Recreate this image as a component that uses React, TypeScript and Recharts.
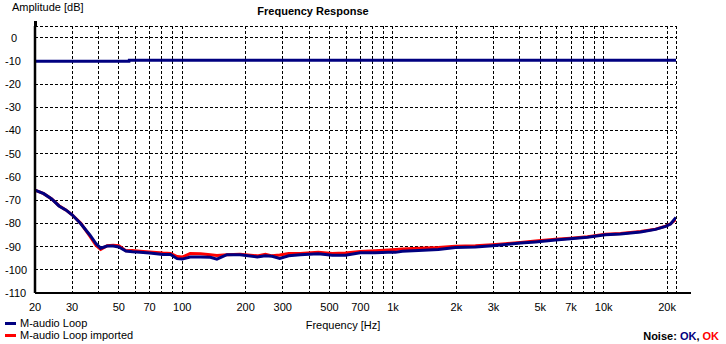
import { LineChart, Line, XAxis, YAxis, CartesianGrid } from 'recharts';

// frequency axis (Hz) of the noise measurement
const freqs = [
  20, 22, 24, 26, 28, 30, 33, 36.5, 39, 41, 44, 47, 50, 54, 58, 63, 70, 81, 88, 94.5,
  100, 109, 122, 136, 146, 163, 188, 227, 248, 267, 290, 320, 363, 442, 515, 594, 700,
  825, 950, 1026, 1108, 1320, 1642, 1978, 2462, 2966, 3420, 4028, 4746, 5904, 6958,
  8385, 10206, 12024, 14964, 17636, 19680, 20770, 22050,
];
const loopDb = [
  -65.7, -67.2, -69.5, -72.5, -74.2, -76.3, -80.2, -85.1, -88.8, -90.7, -89.8, -89.8, -90.2, -91.9, -92.2, -92.4, -92.8, -93.4, -93.4, -95.2,
  -95.4, -94.5, -94.5, -94.6, -95.4, -93.5, -93.5, -94.5, -94.0, -94.2, -95.1, -94.0, -93.5, -93.1, -93.7, -93.7, -92.7,
  -92.7, -92.5, -92.5, -92.0, -91.7, -91.3, -90.4, -90.2, -89.6, -89.1, -88.5, -88.0, -87.2, -86.6,
  -86.0, -84.9, -84.6, -83.7, -82.6, -81.3, -80.3, -77.5,
];
const importedDb = [
  -65.7, -67.2, -69.5, -72.4, -74.2, -76.3, -80.0, -85.6, -89.5, -91.2, -89.6, -89.4, -89.6, -91.8, -91.7, -92.0, -92.3, -92.8, -93.0, -94.3,
  -94.5, -93.0, -93.1, -93.5, -93.8, -93.5, -93.3, -94.0, -93.3, -94.0, -93.6, -93.0, -93.0, -92.5, -93.0, -92.8, -92.1,
  -91.8, -91.5, -91.3, -91.1, -90.7, -90.4, -89.9, -89.7, -89.2, -88.8, -88.2, -87.6, -86.9, -86.4,
  -85.8, -84.7, -84.4, -83.5, -82.5, -81.2, -80.2, -78.3,
];

// reference level trace near -10 dB
const levelFreqs = [20, 55.9, 56, 22050];
const levelDb = [-10.2, -10.2, -9.8, -9.8];

const gridFreqs = [
  20, 30, 40, 50, 60, 70, 80, 90, 100, 200, 300, 400, 500, 600, 700, 800, 900,
  1000, 2000, 3000, 4000, 5000, 6000, 7000, 8000, 9000, 10000, 20000,
];
const labelFreqs = [20, 30, 50, 70, 100, 200, 300, 500, 700, 1000, 2000, 3000, 5000, 7000, 10000, 20000];
const dbTicks = [0, -10, -20, -30, -40, -50, -60, -70, -80, -90, -100, -110];

const series = [
  { name: 'M-audio Loop', color: '#000080' },
  { name: 'M-audio Loop imported', color: '#ff0000' },
];

const loopData = freqs.map((f, i) => ({ f, v: loopDb[i] }));
const importedData = freqs.map((f, i) => ({ f, v: importedDb[i] }));
const levelData = levelFreqs.map((f, i) => ({ f, v: levelDb[i] }));

const FONT = '"Liberation Sans", Arial, sans-serif';

function fmtHz(v: number) {
  if (!labelFreqs.includes(v)) return '';
  return v >= 1000 ? v / 1000 + 'k' : String(v);
}

function XTick({ x, y, payload }: any) {
  const label = fmtHz(payload.value);
  if (!label) return null;
  return (
    <text x={x} y={y + 10} textAnchor="middle" fontSize={11} fontFamily={FONT} fill="#000">
      {label}
    </text>
  );
}

function YTick({ y, payload }: any) {
  return (
    <text x={payload.value === 0 ? 11 : 5} y={y + 4} textAnchor="start" fontSize={11} fontFamily={FONT} fill="#000">
      {payload.value}
    </text>
  );
}

export default function App() {
  return (
    <div style={{ position: 'fixed', left: 0, top: 0, width: 726, height: 344, background: '#fff', fontFamily: FONT }}>
      <LineChart width={726} height={344} margin={{ top: 26, right: 50, bottom: 0, left: 0 }}>
        <CartesianGrid stroke="#000" strokeDasharray="3 2" strokeWidth={1} shapeRendering="crispEdges" />
        <XAxis
          dataKey="f"
          type="number"
          scale="log"
          domain={[20, 22050]}
          allowDataOverflow
          ticks={gridFreqs}
          interval={0}
          tick={<XTick />}
          tickLine={false}
          axisLine={{ stroke: '#000', strokeWidth: 2 }}
          height={51}
        />
        <YAxis
          type="number"
          domain={[-110, 5]}
          allowDataOverflow
          ticks={dbTicks}
          interval={0}
          tick={<YTick />}
          tickLine={false}
          axisLine={{ stroke: '#000', strokeWidth: 2.5 }}
          width={35}
        />
        <Line data={levelData} dataKey="v" type="linear" stroke="#000080" strokeWidth={3} dot={false} isAnimationActive={false} />
        <Line data={importedData} dataKey="v" name={series[1].name} type="linear" stroke={series[1].color} strokeWidth={3} dot={false} isAnimationActive={false} />
        <Line data={loopData} dataKey="v" name={series[0].name} type="linear" stroke={series[0].color} strokeWidth={3} dot={false} isAnimationActive={false} />
      </LineChart>
      {/* axis overhangs */}
      <div style={{ position: 'absolute', left: 34, top: 21, width: 2.5, height: 6, background: '#000' }} />
      <div style={{ position: 'absolute', left: 676, top: 292, width: 15, height: 2, background: '#000' }} />
      <div style={{ position: 'absolute', left: 12, top: 0, fontSize: 11, lineHeight: '14px' }}>Amplitude [dB]</div>
      <div style={{ position: 'absolute', left: 0, width: 626, top: 4, textAlign: 'center', fontSize: 11, fontWeight: 'bold', lineHeight: '14px' }}>
        Frequency Response
      </div>
      <div style={{ position: 'absolute', left: 243, width: 200, top: 318, textAlign: 'center', fontSize: 11, lineHeight: '14px' }}>
        Frequency [Hz]
      </div>
      <div style={{ position: 'absolute', left: 5, top: 317, fontSize: 11, lineHeight: '12px' }}>
        {series.map((s) => (
          <div key={s.name} style={{ display: 'flex', alignItems: 'center', height: 12 }}>
            <span style={{ display: 'inline-block', width: 11, height: 3, background: s.color, marginRight: 4 }} />
            {s.name}
          </div>
        ))}
      </div>
      <div style={{ position: 'absolute', right: 7, top: 329, fontSize: 11, fontWeight: 'bold', lineHeight: '14px' }}>
        Noise: <span style={{ color: '#000080' }}>OK</span>, <span style={{ color: '#ff0000' }}>OK</span>
      </div>
    </div>
  );
}
